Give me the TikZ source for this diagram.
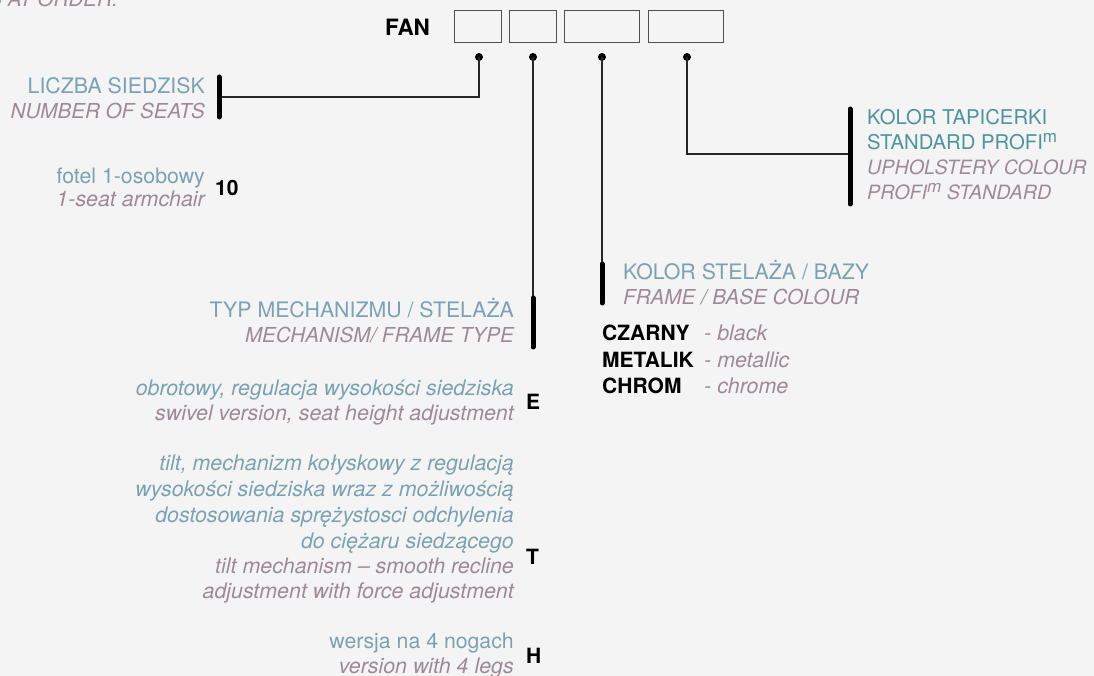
\documentclass[tikz,border=0pt]{standalone}
\usepackage{fontspec}
\setmainfont{TeX Gyre Heros}
\definecolor{bgc}{RGB}{244,244,244}
\definecolor{plc}{RGB}{122,162,178}
\definecolor{tlc}{RGB}{78,148,156}
\definecolor{enc}{RGB}{158,138,150}
\definecolor{boxc}{RGB}{80,80,80}
\newcommand{\supm}{\raisebox{7.5pt}{\fontsize{17}{17}\selectfont m}}
\begin{document}
\begin{tikzpicture}[x=1pt,y=-1pt,
  lab/.style={inner sep=0pt,font=\fontsize{21.3}{25}\selectfont},
  pl/.style={lab,text=plc},
  tl/.style={lab,text=tlc,font=\fontsize{20.3}{25}\selectfont},
  pli/.style={lab,text=plc,font=\fontsize{21.4}{25}\selectfont\itshape},
  eni/.style={lab,text=enc,font=\fontsize{21.4}{25}\selectfont\itshape},
  enu/.style={lab,text=enc,font=\fontsize{20.6}{25}\selectfont\itshape},
  code/.style={lab,text=black,font=\fontsize{21}{25}\selectfont\bfseries},
  re/.style={anchor=base east},
  le/.style={anchor=base west},
  bar/.style={line width=5pt,line cap=round},
  wire/.style={line width=1.1pt,draw=black!85},
  dot/.style={circle,fill=black,inner sep=0pt,minimum size=8pt},
  slot/.style={draw=boxc,line width=1pt,inner sep=0pt,minimum height=32pt}]
\clip (0,0) rectangle (1094,676);
\fill[bgc] (0,0) rectangle (1094,676);

% header
\node[enu,re] (note) at (118,7) {S AT ORDER.};
\node[code,le,font=\fontsize{22.5}{25}\selectfont\bfseries] (fan) at (385,36) {FAN};
\node[slot,minimum width=47pt] (s1) at (477.5,27) {};
\node[slot,minimum width=47pt] (s2) at (532.5,27) {};
\node[slot,minimum width=75pt] (s3) at (601.5,27) {};
\node[slot,minimum width=75pt] (s4) at (685.5,27) {};
\node[dot] (d1) at (479,57) {};
\node[dot] (d2) at (533,57) {};
\node[dot] (d3) at (602,57) {};
\node[dot] (d4) at (687,57) {};

% bars
\coordinate (b1t) at (219,77);  \coordinate (b1b) at (219,117); \coordinate (b1m) at (219,97);
\coordinate (b2t) at (533,298); \coordinate (b2b) at (533,347);
\coordinate (b3t) at (602,264); \coordinate (b3b) at (602,303);
\coordinate (b4t) at (850,109); \coordinate (b4b) at (850,204); \coordinate (b4m) at (850,154);

\draw[wire] (d1.center) |- (b1m);
\draw[wire] (d2.center) -- (b2t);
\draw[wire] (d3.center) -- (b3t);
\draw[wire] (d4.center) |- (b4m);
\draw[bar] (b1t) -- (b1b);
\draw[bar] (b2t) -- (b2b);
\draw[bar] (b3t) -- (b3b);
\draw[bar] (b4t) -- (b4b);

% number of seats
\node[pl,re] (seatpl) at (205,94) {LICZBA SIEDZISK};
\node[enu,re] (seaten) at (205,119) {NUMBER OF SEATS};
\node[pl,re] (f10pl) at (205,184) {fotel 1-osobowy};
\node[eni,re] (f10en) at (205,207) {1-seat armchair};
\node[code,le] (c10) at (215,196) {10};

% upholstery
\node[tl,le] (uppl1) at (867,125) {KOLOR TAPICERKI};
\node[tl,le] (uppl2) at (867,150) {STANDARD PROFI\supm};
\node[enu,le,font=\fontsize{19.7}{25}\selectfont\itshape] (upen1) at (867,175) {UPHOLSTERY COLOUR};
\node[enu,le,font=\fontsize{19.7}{25}\selectfont\itshape] (upen2) at (867,200) {PROFI\supm\ STANDARD};

% frame colour
\node[pl,le] (frpl) at (623,279) {KOLOR STELAŻA / BAZY};
\node[enu,le] (fren) at (623,304) {FRAME / BASE COLOUR};
\node[code,le] (cz) at (602,340) {CZARNY};
\node[eni,le] (czen) at (704,340) {- black};
\node[code,le] (me) at (602,367) {METALIK};
\node[eni,le] (meen) at (704,367) {- metallic};
\node[code,le] (ch) at (602,393) {CHROM};
\node[eni,le] (chen) at (704,393) {- chrome};

% mechanism
\node[pl,re] (mepl) at (514,317) {TYP MECHANIZMU / STELAŻA};
\node[enu,re] (meen2) at (514,342) {MECHANISM/ FRAME TYPE};
\node[pli,re] (epl) at (514,395) {obrotowy, regulacja wysokości siedziska};
\node[eni,re] (een) at (514,420) {swivel version, seat height adjustment};
\node[code,le] (ce) at (526,409) {E};

\node[pli,re] (tpl1) at (514,470) {tilt, mechanizm kołyskowy z regulacją};
\node[pli,re] (tpl2) at (514,496) {wysokości siedziska wraz z możliwością};
\node[pli,re] (tpl3) at (514,522) {dostosowania sprężystosci odchylenia};
\node[pli,re] (tpl4) at (514,548) {do ciężaru siedzącego};
\node[eni,re] (ten1) at (514,573) {tilt mechanism – smooth recline};
\node[eni,re] (ten2) at (514,598) {adjustment with force adjustment};
\node[code,le] (ct) at (526,564) {T};

\node[pl,re] (hpl) at (514,648) {wersja na 4 nogach};
\node[eni,re] (hen) at (514,673) {version with 4 legs};
\node[code,le] (chh) at (526,663) {H};
\end{tikzpicture}
\end{document}
